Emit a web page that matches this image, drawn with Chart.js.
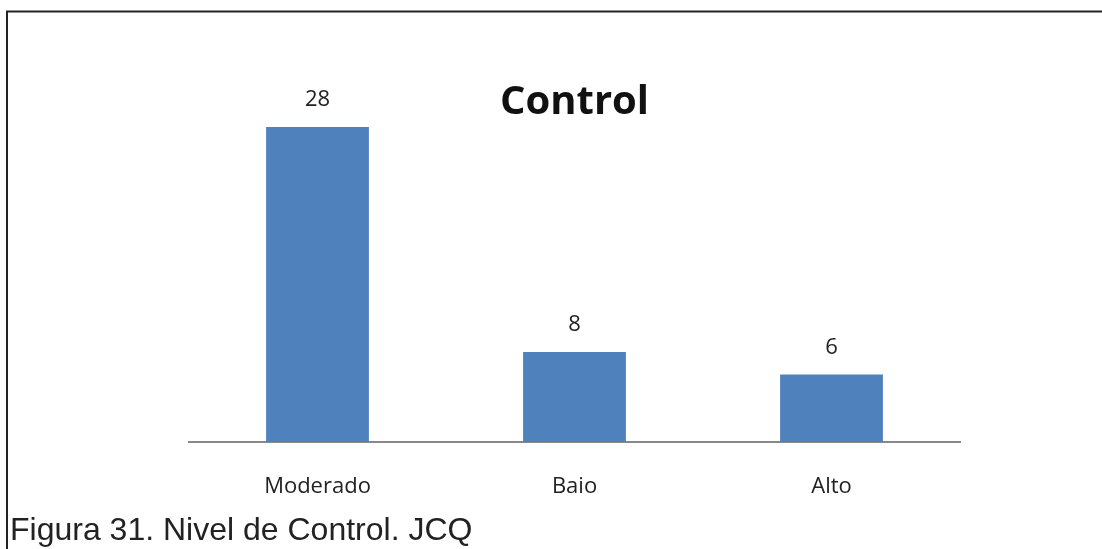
<!DOCTYPE html>
<html>
<head>
<meta charset="utf-8">
<script src="https://cdn.jsdelivr.net/npm/chart.js@4/dist/chart.umd.min.js"></script>
<style>
  html, body { margin: 0; padding: 0; background: #fff; }
  #wrap { position: relative; width: 1102px; height: 549px; overflow: hidden; }
  #chart { position: absolute; left: 0; top: 0; }
  #caption {
    position: absolute; left: 10px; top: 509px;
    font-family: "Liberation Sans", Arial, sans-serif; font-size: 32px;
    color: #222; white-space: nowrap; line-height: 40px;
  }
</style>
</head>
<body>
<div id="wrap">
  <canvas id="chart" width="1102" height="549"></canvas>
  <div id="caption">Figura 31. Nivel de Control. JCQ</div>
</div>
<script>
// Nivel de control (JCQ)
const categories = ["Moderado", "Baio", "Alto"];
const counts = [28, 8, 6];
const yMax = 30;
const chartTitle = "Control";

const barColor = "#4f81bd";
const textFont = '"Open Sans", "Noto Sans", sans-serif';

// Frame lines along the top and left edges, title and value labels above bars
const decorations = {
  id: "decorations",
  afterDraw(chart) {
    const ctx = chart.ctx;
    ctx.save();
    ctx.strokeStyle = "#222";
    ctx.lineWidth = 2;
    ctx.beginPath();
    ctx.moveTo(7, 549);
    ctx.lineTo(7, 11.5);
    ctx.lineTo(1102, 11.5);
    ctx.stroke();

    const area = chart.chartArea;
    ctx.fillStyle = "#111";
    ctx.textAlign = "center";
    ctx.textBaseline = "middle";
    ctx.font = "bold 40px " + textFont;
    ctx.fillText(chartTitle, (area.left + area.right) / 2, 103);

    ctx.font = "22px " + textFont;
    ctx.fillStyle = "#222";
    const meta = chart.getDatasetMeta(0);
    meta.data.forEach((bar, i) => {
      ctx.fillText(String(counts[i]), bar.x, bar.y - 27);
    });
    ctx.restore();
  }
};

new Chart(document.getElementById("chart"), {
  type: "bar",
  data: {
    labels: categories,
    datasets: [{
      data: counts,
      backgroundColor: barColor,
      borderWidth: 0,
      categoryPercentage: 1.0,
      barPercentage: 0.4
    }]
  },
  options: {
    responsive: false,
    animation: false,
    layout: { padding: { left: 189, right: 142, top: 104.5, bottom: 0 } },
    plugins: { legend: { display: false }, tooltip: { enabled: false }, title: { display: false } },
    scales: {
      y: { display: false, min: 0, max: yMax },
      x: {
        grid: { display: false, drawTicks: false },
        border: { display: true, color: "#888", width: 2 },
        ticks: { color: "#222", font: { family: textFont, size: 22 }, padding: 32 },
        afterFit(scale) { scale.height = 107; }
      }
    }
  },
  plugins: [decorations]
});
</script>
</body>
</html>
